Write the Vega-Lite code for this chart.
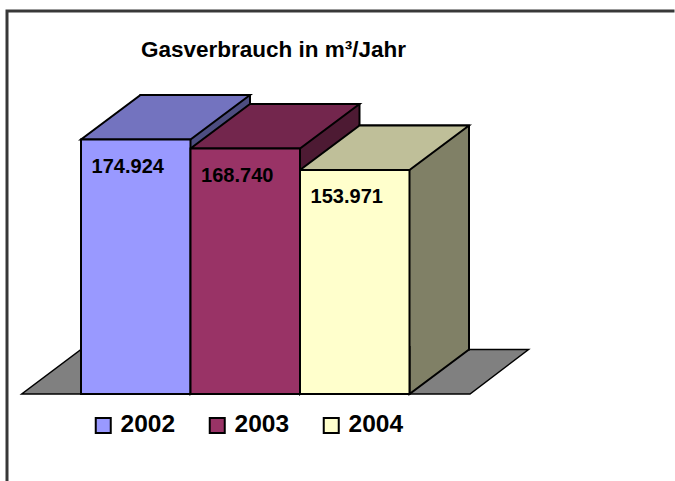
{
  "$schema": "https://vega.github.io/schema/vega-lite/v6.json",
  "usermeta": {"embedOptions": {"actions": false}},
  "autosize": {"type": "none"},
  "padding": {"left": 7, "top": 11, "right": 0, "bottom": 0},
  "width": 668,
  "height": 470,
  "background": "white",
  "title": {
    "text": "Gasverbrauch in m³/Jahr",
    "font": "Liberation Sans",
    "fontSize": 22.5,
    "fontWeight": "bold",
    "color": "black",
    "anchor": "start",
    "frame": "group",
    "baseline": "alphabetic",
    "dx": 134,
    "offset": -68
  },
  "data": {
    "values": [
      {"Jahr": "2002", "Wert": 174924},
      {"Jahr": "2003", "Wert": 168740},
      {"Jahr": "2004", "Wert": 153971}
    ]
  },
  "encoding": {
    "x": {
      "field": "Jahr",
      "type": "nominal",
      "scale": {"type": "band", "domain": ["2002", "2003", "2004"], "paddingInner": 0, "paddingOuter": 0, "range": [74, 402.5]},
      "axis": null
    }
  },
  "layer": [
    {
      "transform": [{"filter": "datum.Jahr == '2003'"}],
      "mark": {"type": "point", "shape": "M-223.5,0L224.75,0L283.25,-44.5L-164.25,-44.5Z", "size": 4, "filled": true, "fill": "#808080", "stroke": "black", "strokeWidth": 1.5, "opacity": 1, "strokeJoin": "miter"},
      "encoding": {
        "y": {"datum": 0, "type": "quantitative", "scale": {"domain": [-59797, 263244], "nice": false, "zero": false}, "axis": null}
      }
    },
    {
      "mark": {"type": "bar", "xOffset": 59.5, "x2Offset": 59.5, "yOffset": -44.5, "y2Offset": -44.5, "stroke": "black", "strokeWidth": 2, "strokeJoin": "miter"},
      "encoding": {
        "y": {"field": "Wert", "type": "quantitative", "scale": {"domain": [-59797, 263244], "nice": false, "zero": false}, "axis": null},
        "y2": {"datum": 0},
        "fill": {"field": "Jahr", "type": "nominal", "scale": {"domain": ["2002", "2003", "2004"], "range": ["#4D4D80", "#4D1A33", "#808066"]}, "legend": null}
      }
    },
    {
      "mark": {"type": "point", "shape": "M54.75,-48L54.75,0L114.25,-44.5L114.25,-48", "size": 4, "filled": true, "stroke": "black", "strokeWidth": 2, "opacity": 1, "strokeJoin": "miter"},
      "encoding": {
        "y": {"datum": 0, "type": "quantitative", "scale": {"domain": [-59797, 263244], "nice": false, "zero": false}, "axis": null},
        "fill": {"field": "Jahr", "type": "nominal", "scale": {"domain": ["2002", "2003", "2004"], "range": ["#4D4D80", "#4D1A33", "#808066"]}, "legend": null}
      }
    },
    {
      "mark": {"type": "point", "shape": "M-54.75,0L54.75,0L114.25,-44.5L4.75,-44.5Z", "size": 4, "filled": true, "stroke": "black", "strokeWidth": 2, "opacity": 1, "strokeJoin": "miter"},
      "encoding": {
        "y": {"field": "Wert", "type": "quantitative", "scale": {"domain": [-59797, 263244], "nice": false, "zero": false}, "axis": null},
        "fill": {"field": "Jahr", "type": "nominal", "scale": {"domain": ["2002", "2003", "2004"], "range": ["#7373BF", "#73264D", "#BFBF99"]}, "legend": null}
      }
    },
    {
      "mark": {"type": "bar", "stroke": "black", "strokeWidth": 2, "strokeJoin": "miter"},
      "encoding": {
        "y": {"field": "Wert", "type": "quantitative", "scale": {"domain": [-59797, 263244], "nice": false, "zero": false}, "axis": null},
        "y2": {"datum": 0},
        "color": {
          "field": "Jahr",
          "type": "nominal",
          "scale": {"domain": ["2002", "2003", "2004"], "range": ["#9999FF", "#993366", "#FFFFCC"]},
          "legend": {
            "title": null,
            "orient": "none",
            "legendX": 84,
            "legendY": 402,
            "direction": "horizontal",
            "columns": 3,
            "columnPadding": 29,
            "padding": 0,
            "labelFont": "Liberation Sans",
            "labelFontSize": 24.5,
            "labelFontWeight": "bold",
            "labelColor": "black",
            "labelOffset": 5,
            "symbolType": "square",
            "symbolSize": 225,
            "symbolStrokeColor": "black",
            "symbolStrokeWidth": 2,
            "symbolOpacity": 1
          }
        }
      }
    },
    {
      "mark": {"type": "text", "font": "Liberation Sans", "fontSize": 20, "fontWeight": "bold", "color": "black", "baseline": "middle", "align": "center", "dx": -8, "dy": 27.5},
      "encoding": {
        "y": {"field": "Wert", "type": "quantitative", "scale": {"domain": [-59797, 263244], "nice": false, "zero": false}, "axis": null},
        "text": {"field": "Wert", "type": "quantitative", "format": ",d"}
      }
    }
  ],
  "resolve": {"scale": {"fill": "independent"}, "legend": {"fill": "independent"}},
  "config": {
    "locale": {"number": {"decimal": ",", "thousands": ".", "grouping": [3], "currency": ["", " €"]}},
    "view": {"stroke": "#383838", "strokeWidth": 3, "strokeDash": [666, 1140, 470], "strokeCap": "square"}
  }
}
